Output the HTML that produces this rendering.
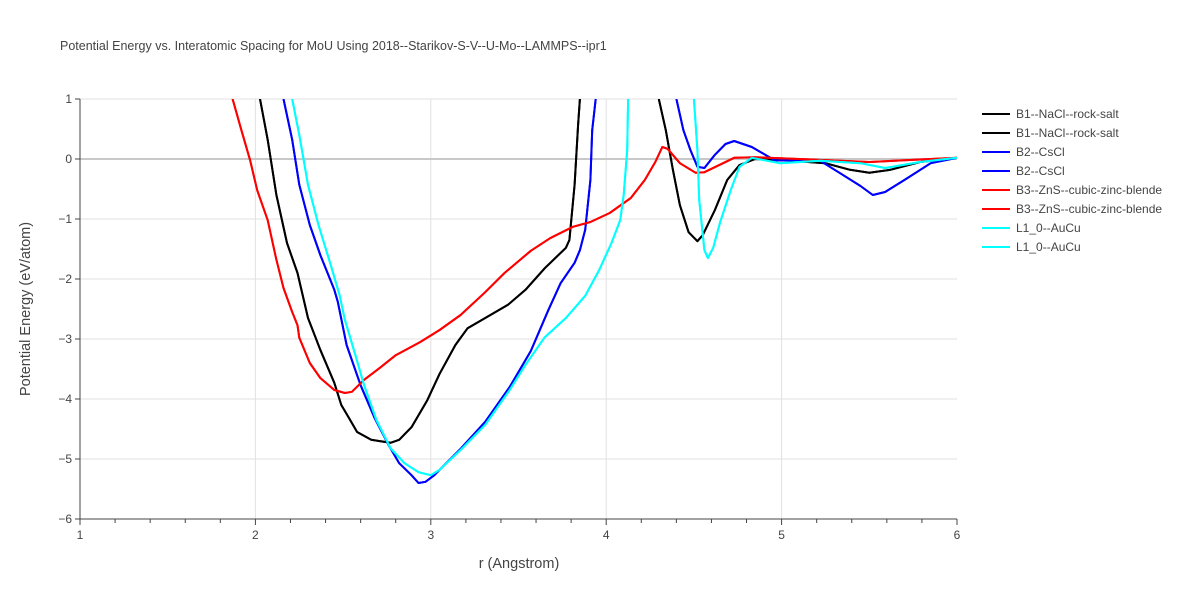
<!DOCTYPE html>
<html><head><meta charset="utf-8"><style>
body{margin:0;background:#fff;font-family:"Liberation Sans",Arial,sans-serif}
svg text{font-family:"Liberation Sans",Arial,sans-serif;fill:#444}
</style></head><body>
<svg id="chart" width="1200" height="600" xmlns="http://www.w3.org/2000/svg">
<defs><clipPath id="clip"><rect x="80" y="99" width="877" height="420"/></clipPath></defs>
<text x="60" y="50" font-size="12.5">Potential Energy vs. Interatomic Spacing for MoU Using 2018--Starikov-S-V--U-Mo--LAMMPS--ipr1</text>
<g id="grid"></g>
<g id="axes"></g>
<g id="series" clip-path="url(#clip)"></g>
<g id="legend"></g>
<text x="519" y="568" font-size="14.5" text-anchor="middle">r (Angstrom)</text>
<text transform="translate(30,309) rotate(-90)" font-size="14.5" text-anchor="middle">Potential Energy (eV/atom)</text>
</svg>
<script>
const xTicks=[1,2,3,4,5,6];
const yTicks=[1,0,-1,-2,-3,-4,-5,-6];
const seriesNames=["B1--NaCl--rock-salt","B1--NaCl--rock-salt","B2--CsCl","B2--CsCl","B3--ZnS--cubic-zinc-blende","B3--ZnS--cubic-zinc-blende","L1_0--AuCu","L1_0--AuCu"];
const seriesColors=["#000000","#000000","#0000ff","#0000ff","#ff0000","#ff0000","#00ffff","#00ffff"];
const b1R=[2.026,2.07,2.12,2.18,2.24,2.30,2.37,2.45,2.49,2.53,2.58,2.66,2.77,2.82,2.89,2.98,3.05,3.14,3.21,3.34,3.44,3.54,3.65,3.77,3.79,3.82,3.84,3.85,null,4.30,4.34,4.38,4.42,4.47,4.52,4.55,4.62,4.69,4.76,4.85,5.05,5.25,5.39,5.50,5.62,5.79,6.0];
const b1E=[1.0,0.32,-0.6,-1.4,-1.9,-2.65,-3.18,-3.73,-4.1,-4.3,-4.55,-4.68,-4.73,-4.68,-4.47,-4.02,-3.58,-3.1,-2.82,-2.6,-2.43,-2.18,-1.82,-1.48,-1.35,-0.43,0.57,1.0,null,1.0,0.48,-0.18,-0.77,-1.22,-1.37,-1.27,-0.85,-0.35,-0.1,0.0,-0.03,-0.07,-0.18,-0.23,-0.18,-0.05,0.02];
const b2R=[2.16,2.21,2.25,2.31,2.37,2.45,2.47,2.52,2.60,2.68,2.76,2.82,2.89,2.93,2.97,3.02,3.17,3.31,3.45,3.57,3.67,3.74,3.82,3.85,3.88,3.91,3.92,3.94,null,4.40,4.44,4.48,4.52,4.56,4.62,4.68,4.73,4.83,4.96,5.22,5.33,5.45,5.52,5.59,5.70,5.85,6.0];
const b2E=[1,0.32,-0.43,-1.1,-1.6,-2.18,-2.38,-3.1,-3.77,-4.32,-4.77,-5.07,-5.27,-5.4,-5.38,-5.27,-4.83,-4.38,-3.8,-3.2,-2.52,-2.07,-1.73,-1.52,-1.18,-0.35,0.48,1,null,1,0.48,0.15,-0.13,-0.15,0.07,0.25,0.3,0.2,-0.02,-0.03,-0.23,-0.45,-0.6,-0.55,-0.35,-0.07,0.02];
const b3R=[1.87,1.92,1.97,2.01,2.07,2.12,2.16,2.21,2.24,2.25,2.31,2.37,2.45,2.51,2.55,2.62,2.71,2.80,2.94,3.05,3.17,3.31,3.42,3.57,3.68,3.81,3.91,4.02,4.14,4.22,4.28,4.32,4.35,4.42,4.51,4.56,4.73,4.85,5.10,5.50,6.0];
const b3E=[1,0.48,-0.02,-0.52,-1.02,-1.68,-2.15,-2.55,-2.77,-2.98,-3.4,-3.65,-3.85,-3.9,-3.88,-3.68,-3.48,-3.27,-3.05,-2.85,-2.6,-2.22,-1.9,-1.53,-1.32,-1.13,-1.05,-0.9,-0.65,-0.35,-0.05,0.2,0.17,-0.07,-0.23,-0.22,0.02,0.03,0,-0.05,0.02];
const l10R=[2.21,2.25,2.30,2.36,2.43,2.48,2.51,2.57,2.62,2.69,2.77,2.85,2.93,3.00,3.05,3.17,3.31,3.45,3.54,3.65,3.77,3.88,3.96,4.03,4.08,4.10,4.12,4.125,null,4.50,4.52,4.53,4.56,4.58,4.61,4.65,4.71,4.76,4.83,4.99,5.22,5.45,5.59,5.79,6.0];
const l10E=[1,0.4,-0.43,-1.1,-1.77,-2.27,-2.68,-3.27,-3.77,-4.35,-4.82,-5.07,-5.22,-5.27,-5.18,-4.85,-4.43,-3.85,-3.43,-2.97,-2.65,-2.28,-1.85,-1.4,-1.02,-0.6,0.15,1,null,1,0.15,-0.68,-1.52,-1.65,-1.48,-1.05,-0.52,-0.13,0.02,-0.07,-0.03,-0.07,-0.15,-0.05,0.02];
const seriesR=[b1R,b1R,b2R,b2R,b3R,b3R,l10R,l10R];
const seriesE=[b1E,b1E,b2E,b2E,b3E,b3E,l10E,l10E];
const X0=80,X1=957,Y0=99,Y1=519,xMin=1,xMax=6,yMin=-6,yMax=1;
const sx=v=>X0+(v-xMin)/(xMax-xMin)*(X1-X0);
const sy=v=>Y1-(v-yMin)/(yMax-yMin)*(Y1-Y0);
const NS="http://www.w3.org/2000/svg";
function mk(tag,attrs,parent){const e=document.createElementNS(NS,tag);for(const k in attrs)e.setAttribute(k,attrs[k]);parent.appendChild(e);return e;}
const grid=document.getElementById('grid'),axes=document.getElementById('axes'),ser=document.getElementById('series'),leg=document.getElementById('legend');
xTicks.forEach(t=>{
  if(t>xMin&&t<xMax){const l=mk('line',{x1:sx(t),x2:sx(t),y1:Y0,y2:Y1,stroke:'#e1e1e1'},grid);
  
  }
  const tx=mk('text',{x:sx(t),y:Y1+20,'font-size':12,'text-anchor':'middle'},axes);tx.textContent=t;
  
  
});
for(let i=0;i<=25;i++){const v=xMin+i*0.2;const len=(i%5===0)?6:4;
  const tk=mk('line',{x1:sx(v),x2:sx(v),y1:Y1,y2:Y1+len,stroke:'#444'},axes);
  
  }
yTicks.forEach(t=>{
  const l=mk('line',{x1:X0,x2:X1,y1:sy(t),y2:sy(t),stroke:t===0?'#c8c8c8':'#e1e1e1','stroke-width':t===0?2:1},grid);
  
  
  const tk=mk('line',{x1:X0-5,x2:X0,y1:sy(t),y2:sy(t),stroke:'#444'},axes);
  
  
  const tx=mk('text',{x:X0-8,y:sy(t)+4,'font-size':12,'text-anchor':'end'},axes);tx.textContent=(t<0?'\u2212'+(-t):t);
  
  
});
const xa=mk('line',{x1:X0,x2:X1,y1:Y1,y2:Y1,stroke:'#444'},axes);


const ya=mk('line',{x1:X0,x2:X0,y1:Y0,y2:Y1,stroke:'#444'},axes);


seriesR.forEach((R,s)=>{
  const E=seriesE[s];let d='',pen=false;
  for(let i=0;i<R.length;i++){if(R[i]===null){pen=false;continue;}d+=(pen?'L':'M')+sx(R[i]).toFixed(1)+','+sy(E[i]).toFixed(1);pen=true;}
  const p=mk('path',{d:d,fill:'none',stroke:seriesColors[s],'stroke-width':2,'stroke-linejoin':'round'},ser);
  
  
  const g=mk('g',{},leg);
  
  
  const y=114+s*19;
  mk('line',{x1:982,x2:1010,y1:y,y2:y,stroke:seriesColors[s],'stroke-width':2},g);
  const t=mk('text',{x:1016,y:y+4,'font-size':12},g);t.textContent=seriesNames[s];
});
</script>
</body></html>
